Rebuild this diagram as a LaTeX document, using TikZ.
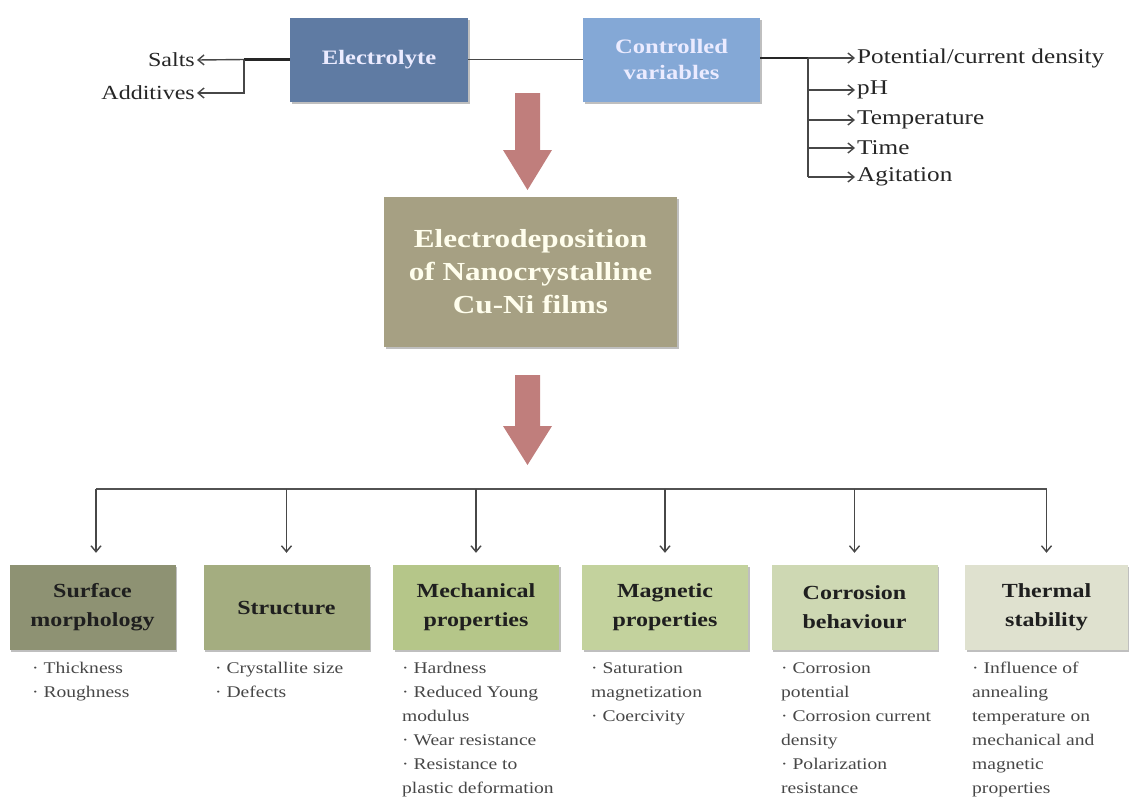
\documentclass[tikz,border=0pt]{standalone}
\usepackage{fontspec}
\setmainfont{Liberation Serif}[FakeStretch=1.2]
\usetikzlibrary{arrows.meta,shadows}
\definecolor{elecC}{HTML}{5F7BA3}
\definecolor{ctrlC}{HTML}{84A8D6}
\definecolor{midC}{HTML}{A6A083}
\definecolor{arrC}{HTML}{C07E7C}
\definecolor{bA}{HTML}{8E9273}
\definecolor{bB}{HTML}{A4AD80}
\definecolor{bC}{HTML}{B5C689}
\definecolor{bD}{HTML}{C3D29D}
\definecolor{bE}{HTML}{CED8B3}
\definecolor{bF}{HTML}{DFE1CF}
\begin{document}
\begin{tikzpicture}[x=1pt,y=-1pt,
  shadowed/.style={drop shadow={shadow xshift=1.5pt,shadow yshift=-2pt,opacity=0.25,fill=black}},
  topbox/.style={shadowed,draw=none,minimum width=178pt,minimum height=84pt,inner sep=0pt,
    font=\fontsize{20.5}{26}\selectfont\bfseries,text=white!92!blue,align=center},
  midbox/.style={shadowed,draw=none,fill=midC,minimum width=293pt,minimum height=150pt,inner sep=0pt,
    font=\fontsize{26}{33}\selectfont\bfseries,text=white!93!yellow,align=center},
  catbox/.style={shadowed,draw=none,minimum width=166pt,minimum height=85pt,inner sep=0pt,
    font=\fontsize{20}{29}\selectfont\bfseries,text=black!88,align=center},
  item/.style={font=\fontsize{21}{25}\selectfont,text=black!85,inner xsep=2pt,inner ysep=3pt},
  bullets/.style={font=\fontsize{16.3}{24}\selectfont,text=black!72,align=left,anchor=north west,inner sep=0pt},
  thinln/.style={draw=black!72,line width=1.4pt},
  thickln/.style={draw=black!85,line width=2.6pt},
  arr/.style={thinln,-{Straight Barb[length=6pt,width=10pt]}},
  bigarrow/.style={fill=arrC,draw=none}
]
\useasboundingbox (0,0) rectangle (1129,796);

% top boxes
\node[topbox,fill=elecC] (elec) at (379,59.5) {Electrolyte};
\node[topbox,fill=ctrlC,minimum width=177pt] (ctrl) at (671.5,59.5) {Controlled\\variables};
\draw[thinln] (elec.east) -- (ctrl.west);

% left branch
\coordinate (lb) at (244,59.5);
\node[item,anchor=east,font=\fontsize{20}{24}\selectfont] (salts) at (197,60) {Salts};
\node[item,anchor=east,font=\fontsize{20}{24}\selectfont] (add) at (197,93) {Additives};
\draw[thickln] (elec.west) -- (lb);
\draw[arr] (lb) -- (salts.east);
\draw[arr] (lb) |- (add.east);

% right branch
\coordinate (rb) at (808,58);
\node[item,anchor=west] (pot) at (855,58) {Potential/current density};
\node[item,anchor=west] (ph) at (855,90) {pH};
\node[item,anchor=west] (temp) at (855,120) {Temperature};
\node[item,anchor=west] (time) at (855,148) {Time};
\node[item,anchor=west] (agit) at (855,177) {Agitation};
\draw[thickln] (ctrl.east |- rb) -- (rb);
\draw[thinln] (rb) -- (808,177);
\draw[arr] (rb) -- (pot.west);
\draw[arr] (rb |- ph.west) -- (ph.west);
\draw[arr] (rb |- temp.west) -- (temp.west);
\draw[arr] (rb |- time.west) -- (time.west);
\draw[arr] (rb |- agit.west) -- (agit.west);

% big arrows
\fill[bigarrow] (515,93) -- (540,93) -- (540,150) -- (552,150) -- (527.5,190) -- (503,150) -- (515,150) -- cycle;
\fill[bigarrow] (515,375) -- (540,375) -- (540,426) -- (552,426) -- (527.5,465) -- (503,426) -- (515,426) -- cycle;

% middle box
\node[midbox] (mid) at (530.5,272) {Electrodeposition\\of Nanocrystalline\\Cu-Ni films};

% category boxes
\node[catbox,fill=bA] (b1) at (92.5,607.5) {Surface\\morphology};
\node[catbox,fill=bB] (b2) at (286.5,607.5) {Structure};
\node[catbox,fill=bC] (b3) at (476,607.5) {Mechanical\\properties};
\node[catbox,fill=bD] (b4) at (665,607.5) {Magnetic\\properties};
\node[catbox,fill=bE] (b5) at (854.5,607.5) {Corrosion\\behaviour};
\node[catbox,fill=bF,minimum width=163pt] (b6) at (1046.5,607.5) {Thermal\\stability};

% distribution line
\coordinate (hl) at (96,489);
\coordinate (hr) at (1046.5,489);
\draw[draw=black!68,line width=2pt] (hl) -- (hr);
\draw[arr,shorten >=12pt] (hl) -- (hl |- b1.north);
\foreach \b in {b2,b3,b4,b5,b6}{
  \draw[arr,shorten >=12pt] (\b.north |- hl) -- (\b.north);
}

% bullet lists
\node[bullets] (l1) at (32,662) {· Thickness\\· Roughness};
\node[bullets] (l2) at (215,662) {· Crystallite size\\· Defects};
\node[bullets] (l3) at (402,662) {· Hardness\\· Reduced Young\\modulus\\· Wear resistance\\· Resistance to\\plastic deformation};
\node[bullets] (l4) at (591,662) {· Saturation\\magnetization\\· Coercivity};
\node[bullets] (l5) at (781,662) {· Corrosion\\potential\\· Corrosion current\\density\\· Polarization\\resistance};
\node[bullets] (l6) at (972,662) {· Influence of\\annealing\\temperature on\\mechanical and\\magnetic\\properties};
\end{tikzpicture}
\end{document}
